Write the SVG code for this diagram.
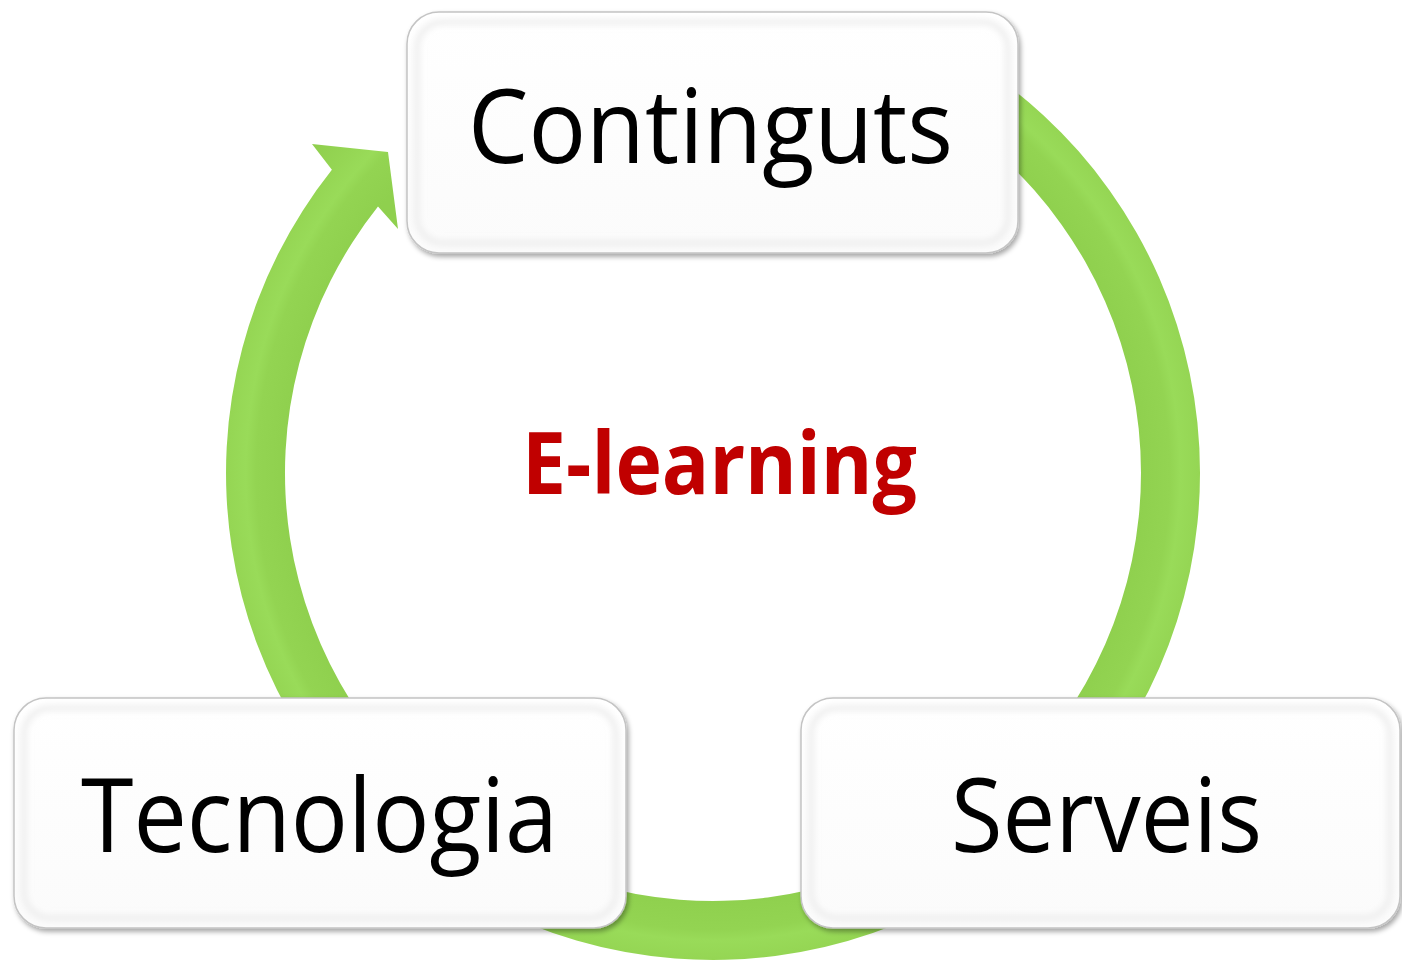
<svg xmlns="http://www.w3.org/2000/svg" width="1402" height="960" viewBox="0 0 1402 960">
  <defs>
    <radialGradient id="ringGrad" gradientUnits="userSpaceOnUse" cx="713" cy="473" r="519">
      <stop offset="0.82" stop-color="#8fd04e"/>
      <stop offset="0.88" stop-color="#93d452"/>
      <stop offset="0.90" stop-color="#99db59"/>
      <stop offset="0.935" stop-color="#95d654"/>
      <stop offset="1" stop-color="#8fce4d"/>
    </radialGradient>
    <linearGradient id="boxGrad" x1="0" y1="0" x2="0" y2="1">
      <stop offset="0" stop-color="#ffffff"/>
      <stop offset="1" stop-color="#fbfbfb"/>
    </linearGradient>
    <filter id="shadow" x="-5%" y="-5%" width="110%" height="115%">
      <feDropShadow dx="2" dy="3" stdDeviation="2.5" flood-color="#000000" flood-opacity="0.35"/>
    </filter>
    <filter id="soft" x="-5%" y="-5%" width="110%" height="110%">
      <feGaussianBlur stdDeviation="3"/>
    </filter>
  </defs>
  <style>
    .box { fill: url(#boxGrad); stroke: #c4c4c4; stroke-width: 1.5; filter: url(#shadow); }
    .bevel { fill: none; stroke: #ececec; stroke-width: 5; filter: url(#soft); }
    .label { font-family: "Open Sans", "Noto Sans", "Liberation Sans", sans-serif; font-size: 102px; fill: #000000; }
    .center { font-family: "Open Sans", "Noto Sans", "Liberation Sans", sans-serif; font-size: 86px; font-weight: bold; fill: #c00000; }
  </style>
  <rect width="1402" height="960" fill="#ffffff"/>
  <g id="connectors">
    <path id="cycle-arrow" fill="url(#ringGrad)" d="M 918.8 31.6 A 487 487 0 1 1 331.9 169.8 L 312 144 L 388 152 L 398 229 L 378.0 206.6 A 428 428 0 1 0 893.9 85.1 Z"/>
  </g>
  <g id="node-continguts">
    <rect class="box" x="407" y="12" width="611" height="241" rx="32" ry="32"/>
    <rect class="bevel" x="417" y="22" width="591" height="221" rx="26" ry="26"/>
    <text class="label" x="468" y="163" textLength="485" lengthAdjust="spacingAndGlyphs">Continguts</text>
  </g>
  <g id="node-tecnologia">
    <rect class="box" x="14" y="698" width="612" height="230" rx="32" ry="32"/>
    <rect class="bevel" x="24" y="708" width="592" height="210" rx="26" ry="26"/>
    <text class="label" x="81" y="852" textLength="477" lengthAdjust="spacingAndGlyphs">Tecnologia</text>
  </g>
  <g id="node-serveis">
    <rect class="box" x="801" y="698" width="599" height="230" rx="32" ry="32"/>
    <rect class="bevel" x="811" y="708" width="579" height="210" rx="26" ry="26"/>
    <text class="label" x="951" y="852" textLength="311" lengthAdjust="spacingAndGlyphs">Serveis</text>
  </g>
  <g id="node-elearning">
    <text class="center" x="522" y="494" textLength="395" lengthAdjust="spacingAndGlyphs">E-learning</text>
  </g>
</svg>
